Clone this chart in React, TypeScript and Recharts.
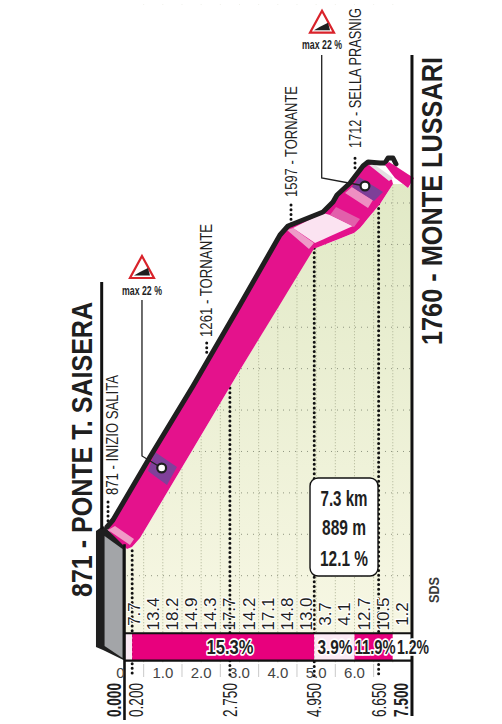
import React from "react";
import {
  Area, CartesianGrid, ComposedChart, Line, ReferenceArea, ReferenceLine, Scatter, XAxis, YAxis,
} from "recharts";

const NARROW = '"Liberation Sans Narrow", "Liberation Sans", Arial, sans-serif';
const INK = "#1f1f1f";
const MAGENTA = "#e4128c";

// --- profile, in km / metres ---
const roadTop = [
  { km: -0.457, el: 917.6 }, { km: -0.3, el: 934.5 }, { km: 0.665, el: 1086.6 }, { km: 1.787, el: 1258.1 },
  { km: 3.013, el: 1453.7 }, { km: 4.057, el: 1622.7 }, { km: 4.266, el: 1644.5 }, { km: 5.179, el: 1678.3 },
  { km: 5.44, el: 1702.5 }, { km: 5.544, el: 1719.4 }, { km: 5.883, el: 1748.4 }, { km: 6.222, el: 1789.4 },
  { km: 6.353, el: 1799 }, { km: 6.666, el: 1796.6 }, { km: 6.796, el: 1796.6 }, { km: 6.875, el: 1808.7 },
  { km: 7.005, el: 1808.7 }, { km: 7.083, el: 1794.2 },
];
const terrainKm = [0, 0.065, 0.196, 0.404, 3.013, 4.918, 4.996, 5.987, 6.144, 6.666, 7.005, 7.266, 7.396, 7.5];
const terrainEl = [871.7, 864.5, 869.3, 891, 1296.7, 1591.3, 1591.3, 1627.6, 1639.7, 1697.7, 1746, 1746, 1736.3, 1748];

const ribbonLower = [[-0.43, 910.4], [-0.3, 934.5], [0.665, 1086.6], [1.787, 1258.1], [3.013, 1453.7], [4.057, 1622.7], [4.266, 1644.5], [4.97, 1593.8], [3.013, 1296.7], [0.404, 891], [0.196, 869.3], [0.065, 864.5]];
const ribbonUpper = [[4.266, 1644.5], [5.179, 1678.3], [5.44, 1702.5], [5.544, 1719.4], [5.883, 1748.4], [6.222, 1789.4], [6.353, 1799], [6.979, 1755.6], [7.005, 1746], [6.666, 1697.7], [6.144, 1639.7], [5.987, 1627.6], [4.996, 1591.3], [4.918, 1591.3]];
const startStripe = [[-0.43, 910.4], [-0.248, 920], [0.248, 888.6], [0.143, 874]];
const lowPurple = [[0.796, 1098.7], [1.37, 1062.5], [1.109, 1019], [0.613, 1052.9]];
const midStripe = [[4.24, 1634.8], [4.396, 1639.6], [4.944, 1603.4], [4.813, 1588.9]];
const paleBand = [[4.396, 1639.7], [5.179, 1675.9], [5.362, 1671], [5.962, 1644.5], [4.97, 1603.4]];
const mediumBand = [[5.362, 1671], [5.518, 1690.4], [6.144, 1661.4], [5.987, 1642.1]];
const lightBand = [[5.753, 1724.2], [5.935, 1738.6], [6.483, 1707.3], [6.353, 1688]];
const highPurple = [[5.935, 1738.6], [6.118, 1762.8], [6.744, 1726.6], [6.509, 1704.9]];
const paleTop = [[6.379, 1791.8], [6.535, 1791.8], [7.005, 1760.4], [6.901, 1753.2]];
const lastBlock = [[6.796, 1791.8], [6.901, 1799], [7.553, 1760.4], [7.396, 1736.3], [7.266, 1746], [7.057, 1760.4]];
const wallBlack = [[-0.744, 907.9], [-0.561, 920], [0, 876.6], [0, 595], [-0.561, 620.6], [-0.744, 627.8]];
const wallGray = [[-0.52, 895.9], [-0.052, 864.5], [-0.052, 601.3], [-0.52, 630.2]];

// --- axis content ---
const elevationTicks = [800, 900, 1000, 1100, 1200, 1300, 1400, 1500, 1600, 1700];
const halfKmLines = [0.5, 1, 1.5, 2, 2.5, 3, 3.5, 4, 4.5, 5, 5.5, 6, 6.5, 7];
const kmTicks = [0, 0.5, 1, 1.5, 2, 2.5, 3, 3.5, 4, 4.5, 5, 5.5, 6, 6.5];
const milestoneTicks = [0, 0.2, 2.75, 4.95, 6.65, 7.5];
const gradientKm = [0.25, 0.75, 1.25, 1.75, 2.25, 2.75, 3.25, 3.75, 4.25, 4.75, 5.25, 5.75, 6.25, 6.75, 7.25];
const gradientValues = ["7.7", "13.4", "18.2", "14.9", "14.3", "17.7", "14.2", "17.1", "14.8", "13.0", "3.7", "4.1", "12.7", "10.5", "1.2"];
const gradientRowEl = 707.5;

const stripSegments = [
  { from: 0, to: 0.2, kind: "pale" }, { from: 0.2, to: 4.95, kind: "steep" }, { from: 4.95, to: 6, kind: "pale" },
  { from: 6, to: 7, kind: "steep" }, { from: 7, to: 7.5, kind: "flat" },
];
const stripLabels = [{ km: 2.752, el: 628, text: "15.3%" }, { km: 5.49, el: 628, text: "3.9%" }, { km: 6.54, el: 628, text: "11.9%" }, { km: 7.527, el: 628, text: "1.2%" }];

const waypointLabels = [
  { km: -0.3, el: 994.9, text: "871 - INIZIO SALITA" }, { km: 2.152, el: 1376.4, text: "1261 - TORNANTE" },
  { km: 4.357, el: 1714.5, text: "1597 - TORNANTE" }, { km: 6.014, el: 1832.8, text: "1712 - SELLA PRASNIG" },
];
const endLabels = [{ km: -1.109, el: 748.6, text: "871 - PONTE T. SAISERA" }, { km: 8.01, el: 1357.1, text: "1760 - MONTE LUSSARI" }];
const creditLabels = [{ km: 8.049, el: 734, text: "SDS" }];
const summaryLabels = [{ km: 5.727, el: 987.6, text: "7.3 km" }, { km: 5.727, el: 917.6, text: "889 m" }, { km: 5.727, el: 842.7, text: "12.1 %" }];
const textLengths = {
  "871 - INIZIO SALITA": 120, "1261 - TORNANTE": 113, "1597 - TORNANTE": 111, "1712 - SELLA PRASNIG": 140,
  "871 - PONTE T. SAISERA": 295, "1760 - MONTE LUSSARI": 288, SDS: 26, "7.3 km": 47, "889 m": 44, "12.1 %": 48,
  "15.3%": 47, "3.9%": 35, "11.9%": 41, "1.2%": 32,
};

const steepWarnings = [{ km: 0.456, el: 1518.9, text: "max 22 %" }, { km: 5.153, el: 2111.3, text: "max 22 %" }];
const steepSpots = [{ km: 0.97, el: 1060.1 }, { km: 6.274, el: 1741.1 }];
const leaderLow = [{ km: 0.456, el: 1465.8 }, { km: 0.456, el: 1089.1 }, { km: 0.97, el: 1060.1 }];
const leaderHigh = [{ km: 5.145, el: 2057.4 }, { km: 5.145, el: 1760.4 }, { km: 6.274, el: 1741.1 }];

const dottedMarkers = [
  { km: 0.2, top: 860, bottom: 555 }, { km: 2.75, top: 1253, bottom: 555 }, { km: 4.95, top: 1591, bottom: 555 }, { km: 6.63, top: 1698, bottom: 555 },
  { km: -0.43, top: 978, bottom: 930 }, { km: 2.145, top: 1362, bottom: 1333 }, { km: 4.344, top: 1695, bottom: 1647 }, { km: 6.014, top: 1808, bottom: 1774 },
];
const solidRules = [
  { x1: -0.595, y1: 1509.3, x2: -0.595, y2: 912, w: 3 }, { x1: 7.5, y1: 2057.4, x2: 7.5, y2: 461, w: 3 },
  { x1: 0, y1: 876, x2: 0, y2: 451.5, w: 2.6 }, { x1: 0, y1: 661, x2: 7.5, y2: 661, w: 2 }, { x1: 0, y1: 595, x2: 7.5, y2: 595, w: 2.4 },
];

// Turns a closed outline into the low/high rows a range Area draws.
function outlineRows(points) {
  const xs = [...new Set(points.map((p) => p[0]))].sort((a, b) => a - b);
  return xs.map((km) => {
    const hits = [];
    points.forEach((a, i) => {
      const b = points[(i + 1) % points.length];
      const lo = Math.min(a[0], b[0]);
      const hi = Math.max(a[0], b[0]);
      if (km < lo || km > hi) return;
      if (a[0] === b[0]) hits.push(a[1], b[1]);
      else hits.push(a[1] + ((km - a[0]) / (b[0] - a[0])) * (b[1] - a[1]));
    });
    return { km, range: [Math.min(...hits), Math.max(...hits)] };
  });
}

const TOP = 2180;
const terrainRows = terrainKm.map((km, i) => ({ km, range: [661, terrainEl[i]] }));
const maskRows = [
  { km: -1.5, range: [590, TOP] }, { km: -0.001, range: [590, TOP] },
  ...terrainKm.map((km, i) => ({ km, range: [terrainEl[i], TOP] })),
  { km: 7.501, range: [590, TOP] }, { km: 8.6, range: [590, TOP] },
];
const gradientRows = gradientKm.map((km, i) => ({ km, el: gradientRowEl, text: gradientValues[i] }));

const rot = (x, y) => `rotate(-90 ${x} ${y})`;
const rotatedText = (size, weight, color) => (p) => {
  const d = p.payload ?? p;
  const len = textLengths[d.text];
  return (
    <text x={p.cx} y={p.cy} transform={rot(p.cx, p.cy)} fontFamily={NARROW} fontSize={size} fontWeight={weight}
      fill={color} dominantBaseline="central" textLength={len} lengthAdjust={len ? "spacingAndGlyphs" : undefined}>{d.text}</text>
  );
};
const centredRotatedText = (size) => (p) => {
  const d = p.payload ?? p;
  return (
    <text x={p.cx} y={p.cy} transform={rot(p.cx, p.cy)} fontFamily={NARROW} fontSize={size} fill={INK} textAnchor="middle" dominantBaseline="central"
      stroke="#fff" strokeWidth={2.2} paintOrder="stroke" strokeLinejoin="round">{d.text}</text>
  );
};
const flatText = (size, halo) => (p) => {
  const d = p.payload ?? p;
  return (
    <text x={p.cx} y={p.cy} fontFamily={NARROW} fontSize={size} fontWeight={700} fill={INK} textAnchor="middle" dominantBaseline="central"
      textLength={textLengths[d.text]} lengthAdjust="spacingAndGlyphs" stroke={halo ? "#fff" : "none"} strokeWidth={halo ? 3.4 : 0}
      paintOrder="stroke" strokeLinejoin="round">{d.text}</text>
  );
};
const WarningShape = (p) => {
  const d = p.payload ?? p;
  const { cx: x, cy: y } = p;
  return (
    <g>
      <polygon points={`${x},${y - 22} ${x + 12},${y} ${x - 12},${y}`} fill="#fff" stroke="#d9232b" strokeWidth={2.2} strokeLinejoin="miter" />
      <polygon points={`${x - 8},${y - 2.5} ${x - 2},${y - 6} ${x + 6},${y - 10} ${x + 8},${y - 2.5}`} fill={INK} />
      <text x={x} y={y + 12} fontFamily={NARROW} fontSize={13} fontWeight={700} fill={INK} textAnchor="middle" dominantBaseline="central" textLength={40} lengthAdjust="spacingAndGlyphs">{d.text}</text>
    </g>
  );
};
const SpotShape = (p) => <circle cx={p.cx} cy={p.cy} r={4.4} fill="#fff" stroke={INK} strokeWidth={2.2} />;

const tickShade = (value) => {
  const t = Math.min(1, Math.max(0, (value - 661) / 1087));
  const c = [[247, 247, 228], [225, 233, 198]];
  const mix = c[0].map((v, i) => Math.round(v + (c[1][i] - v) * t));
  return `rgb(${mix.join(",")})`;
};
const ElevationTick = (p) => {
  const x = 409;
  return (
    <g>
      <rect x={x - 24} y={p.y - 6} width={25} height={12} fill={tickShade(p.payload.value)} />
      <text x={x} y={p.y} fontFamily={NARROW} fontSize={13} fill="#85857a" textAnchor="end" dominantBaseline="central">{p.payload.value}</text>
    </g>
  );
};
const KmTick = (p) => {
  const v = p.payload.value;
  if (v === 0) return <text x={p.x - 4} y={672} fontFamily={NARROW} fontSize={15} fill="#444" textAnchor="middle" dominantBaseline="central">0</text>;
  if (!Number.isInteger(v)) return <line x1={p.x} x2={p.x} y1={664} y2={677} stroke="#c9c9c9" strokeWidth={1} />;
  return <text x={p.x} y={672} fontFamily={NARROW} fontSize={15} fill="#444" textAnchor="middle" dominantBaseline="central">{v.toFixed(1)}</text>;
};
const milestoneShift = { 0: -10.5, 0.2: 3.8, 7.5: -10.5 };
const MilestoneTick = (p) => {
  const v = p.payload.value;
  const end = v === 0 || v === 7.5;
  const x = p.x + (milestoneShift[v] ?? 0);
  return (
    <text x={x} y={683} transform={rot(x, 683)} fontFamily={NARROW} fontSize={20} fontWeight={end ? 700 : 400} fill={INK}
      textAnchor="end" dominantBaseline="central" textLength={34} lengthAdjust="spacingAndGlyphs">{v.toFixed(3)}</text>
  );
};

const polygons = [
  [wallBlack, INK], [wallGray, "#a3a5a8"], [ribbonLower, MAGENTA], [startStripe, "#f09ac6"], [lowPurple, "#80409a"],
  [ribbonUpper, MAGENTA], [midStripe, "#ee9ac8"], [paleBand, "#fbe3f1"], [mediumBand, "#e25fab"], [lightBand, "#ee8fc2"],
  [highPurple, "#7d3f98"], [paleTop, "#e4dfe2"],
];
const stripFill = { pale: "#fbeaf4", steep: "#e8007d", flat: "#ffffff" };

export default function App() {
  let z = 1;
  return (
    <div style={{ position: "absolute", left: 0, top: 0, width: 502, height: 724, background: "#fff" }}>
      <ComposedChart width={502} height={724} data={terrainRows} margin={{ top: 4.24, right: 47.86, bottom: 0, left: 67 }}>
        <defs>
          <linearGradient id="terrainFill" x1="0" y1="0" x2="0" y2="1">
            <stop offset="0%" stopColor="#e1e9c6" />
            <stop offset="100%" stopColor="#f7f7e4" />
          </linearGradient>
        </defs>
        <Area data={terrainRows} dataKey="range" type="linear" stroke="none" fill="url(#terrainFill)" fillOpacity={1} isAnimationActive={false} dot={false} activeDot={false} legendType="none" zIndex={z++} />
        <CartesianGrid horizontal={false} vertical verticalValues={halfKmLines} stroke="#aeb395" strokeDasharray="1 2" zIndex={z++} />
        <CartesianGrid vertical={false} horizontal horizontalValues={elevationTicks} stroke="#8f9580" strokeDasharray="1 5" zIndex={z++} />
        <Area data={maskRows} dataKey="range" type="linear" stroke="none" fill="#fff" fillOpacity={1} isAnimationActive={false} dot={false} activeDot={false} legendType="none" zIndex={z++} />

        <XAxis xAxisId={0} dataKey="km" type="number" domain={[-1.5, 8.6]} ticks={kmTicks} interval={0} height={20} tickLine={false} axisLine={false} tickSize={0} tick={KmTick} />
        <XAxis xAxisId="milestones" dataKey="km" type="number" domain={[-1.5, 8.6]} ticks={milestoneTicks} interval={0} height={41.34} tickLine={false} axisLine={false} tickSize={0} tick={MilestoneTick} />
        <YAxis dataKey="el" type="number" orientation="right" mirror width={0} domain={[590, TOP]} ticks={elevationTicks} interval={0} tickLine={false} axisLine={false} tick={ElevationTick} />

        {dottedMarkers.map((m) => (
          <ReferenceLine key={m.km} ifOverflow="visible" segment={[{ x: m.km, y: m.top }, { x: m.km, y: m.bottom }]} stroke="#111" strokeWidth={3} strokeDasharray="0 4.7" strokeLinecap="round" zIndex={z++} />
        ))}
        {stripSegments.map((s) => (
          <ReferenceArea key={s.from} ifOverflow="visible" x1={s.from} x2={s.to} y1={661} y2={595} fill={stripFill[s.kind]} fillOpacity={1} stroke="none" zIndex={z++} />
        ))}
        {polygons.map(([points, color], i) => (
          <Area key={i} data={outlineRows(points)} dataKey="range" type="linear" stroke="none" fill={color} fillOpacity={1} isAnimationActive={false} dot={false} activeDot={false} legendType="none" zIndex={z++} />
        ))}
        <Line data={roadTop} dataKey="el" type="linear" stroke={INK} strokeWidth={5} strokeLinejoin="round" strokeLinecap="round" dot={false} activeDot={false} isAnimationActive={false} legendType="none" zIndex={z++} />
        <Area data={outlineRows(lastBlock)} dataKey="range" type="linear" stroke="none" fill={MAGENTA} fillOpacity={1} isAnimationActive={false} dot={false} activeDot={false} legendType="none" zIndex={z++} />

        {solidRules.map((r, i) => (
          <ReferenceLine key={i} ifOverflow="visible" segment={[{ x: r.x1, y: r.y1 }, { x: r.x2, y: r.y2 }]} stroke="#111" strokeWidth={r.w} zIndex={z++} />
        ))}
        <Line data={leaderLow} dataKey="el" type="linear" stroke={INK} strokeWidth={1.3} dot={false} activeDot={false} isAnimationActive={false} legendType="none" zIndex={z++} />
        <Line data={leaderHigh} dataKey="el" type="linear" stroke={INK} strokeWidth={1.3} dot={false} activeDot={false} isAnimationActive={false} legendType="none" zIndex={z++} />
        <ReferenceArea ifOverflow="visible" x1={4.84} x2={6.614} y1={1036} y2={799.3} fill="#fff" fillOpacity={1} stroke="#111" strokeWidth={1.4} radius={8} zIndex={z++} />

        <Scatter data={gradientRows} dataKey="el" shape={centredRotatedText(17)} isAnimationActive={false} legendType="none" zIndex={z++} />
        <Scatter data={stripLabels} dataKey="el" shape={flatText(21, true)} isAnimationActive={false} legendType="none" zIndex={z++} />
        <Scatter data={waypointLabels} dataKey="el" shape={rotatedText(17, 400, INK)} isAnimationActive={false} legendType="none" zIndex={z++} />
        <Scatter data={endLabels} dataKey="el" shape={rotatedText(29, 700, INK)} isAnimationActive={false} legendType="none" zIndex={z++} />
        <Scatter data={creditLabels} dataKey="el" shape={rotatedText(15, 700, "#3a3a3a")} isAnimationActive={false} legendType="none" zIndex={z++} />
        <Scatter data={summaryLabels} dataKey="el" shape={flatText(22, false)} isAnimationActive={false} legendType="none" zIndex={z++} />
        <Scatter data={steepWarnings} dataKey="el" shape={WarningShape} isAnimationActive={false} legendType="none" zIndex={z++} />
        <Scatter data={steepSpots} dataKey="el" shape={SpotShape} isAnimationActive={false} legendType="none" zIndex={z++} />
      </ComposedChart>
    </div>
  );
}
